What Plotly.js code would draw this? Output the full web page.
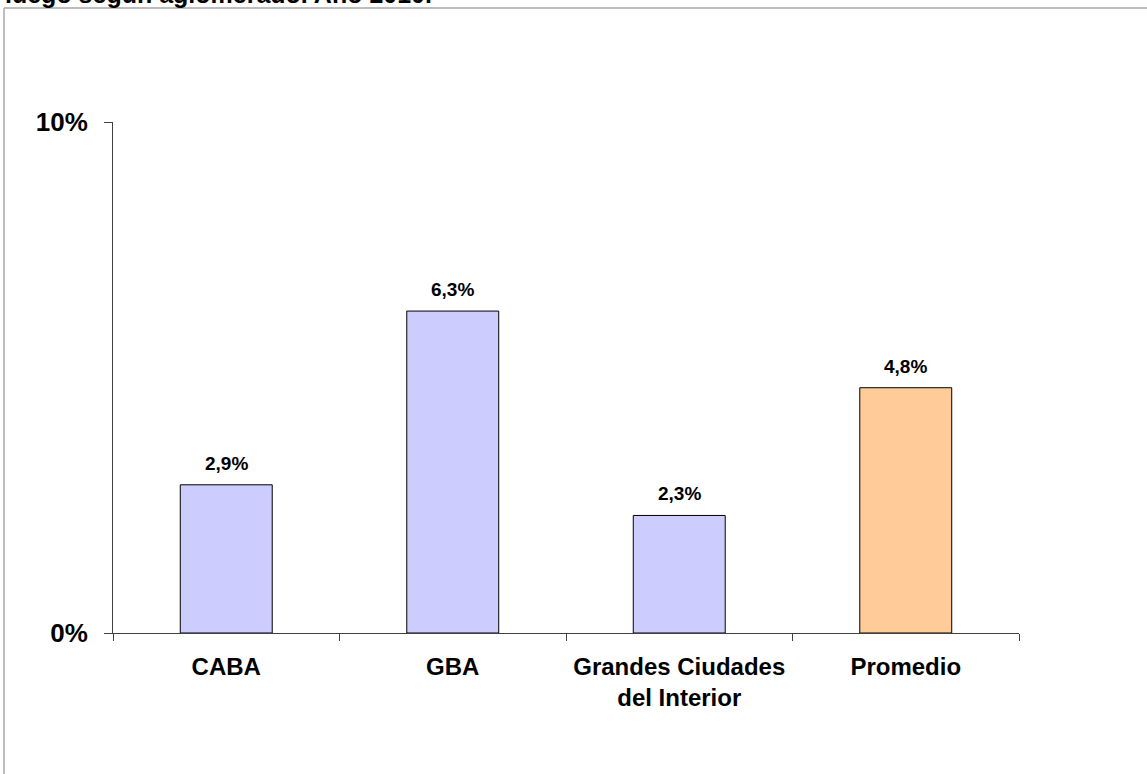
<!DOCTYPE html>
<html>
<head>
<meta charset="utf-8">
<script src="https://cdn.plot.ly/plotly-3.0.1.min.js"></script>
<style>
  html, body { margin: 0; padding: 0; background: #ffffff; }
  #chart { width: 1147px; height: 774px; }
</style>
</head>
<body>
<div id="chart"></div>
<script>
// Data
var categories = ["CABA", "GBA", "Grandes Ciudades<br>del Interior", "Promedio"];
var values = [0.029, 0.063, 0.023, 0.048];
var barColors = ["#CCCCFF", "#CCCCFF", "#CCCCFF", "#FFCC99"];
var yTickVals = [0, 0.1];
var titleText = "luego según aglomerado. Año 2010.";

var W = 1147, H = 774;
var L = 113, R = 1019, T = 122, B = 633;
function px(x) { return (x - L) / (R - L); }
function py(y) { return (B - y) / (B - T); }

var FONT = "Liberation Sans, Arial, sans-serif";

var trace = {
  type: "bar",
  x: categories,
  y: values,
  marker: { color: barColors, line: { color: "#000000", width: 1 } },
  hoverinfo: "skip"
};

var labelAnnots = categories.map(function (c, i) {
  return {
    x: c, y: values[i], xref: "x", yref: "y",
    text: "<b>" + (values[i] * 100).toFixed(1).replace(".", ",") + "%</b>",
    showarrow: false, xanchor: "center", yanchor: "bottom", yshift: 9,
    font: { family: FONT, size: 19, color: "#000000" }
  };
});

labelAnnots.push({
  xref: "paper", yref: "paper",
  x: px(3), y: py(10), xanchor: "left", yanchor: "bottom",
  text: "<b>" + titleText + "</b>", showarrow: false,
  font: { family: FONT, size: 25, color: "#000000" }
});

var layout = {
  width: W, height: H,
  margin: { l: L, r: W - R, t: T, b: H - B, pad: 0 },
  paper_bgcolor: "#ffffff",
  plot_bgcolor: "#ffffff",
  separators: ",.",
  showlegend: false,
  bargap: 0.594,
  font: { family: FONT, color: "#000000" },
  xaxis: {
    type: "category",
    showgrid: false, zeroline: false,
    showline: true, linecolor: "#404040", linewidth: 1,
    ticks: "outside", tickson: "boundaries", ticklen: 7, tickcolor: "#404040", tickwidth: 1,
    tickfont: { family: FONT, size: 24, color: "#000000", weight: "bold" },
    ticklabelstandoff: 12
  },
  yaxis: {
    range: [0, 0.1],
    tickvals: yTickVals,
    tickformat: ".0%",
    showgrid: false, zeroline: false,
    showline: true, linecolor: "#404040", linewidth: 1,
    ticks: "outside", ticklen: 8, tickcolor: "#404040", tickwidth: 1,
    tickfont: { family: FONT, size: 26, color: "#000000", weight: "bold" },
    ticklabelstandoff: 11
  },
  annotations: labelAnnots,
  shapes: [
    { type: "line", xref: "paper", yref: "paper", x0: px(4), x1: px(W + 5), y0: py(8), y1: py(8),
      line: { color: "#BDBDBD", width: 2 } },
    { type: "line", xref: "paper", yref: "paper", x0: px(4), x1: px(4), y0: py(8), y1: py(H + 5),
      line: { color: "#BDBDBD", width: 2 } }
  ]
};

Plotly.newPlot("chart", [trace], layout, { displayModeBar: false, staticPlot: true });
</script>
</body>
</html>
